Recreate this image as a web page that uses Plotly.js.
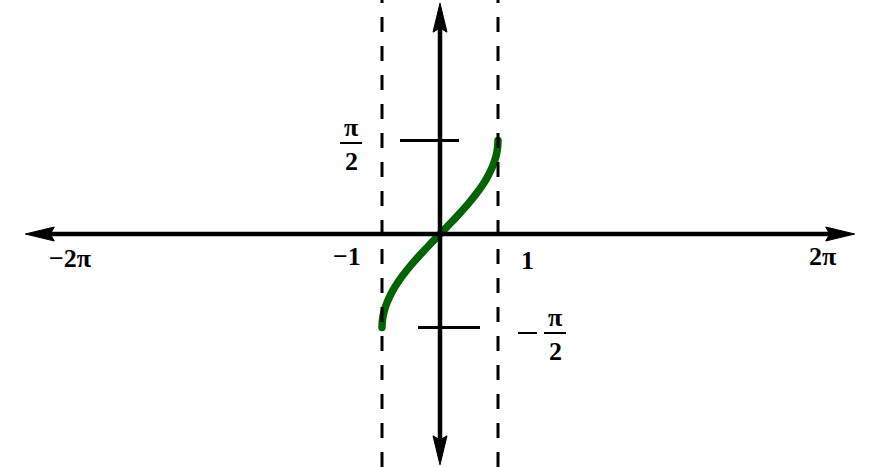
<!DOCTYPE html>
<html>
<head>
<meta charset="utf-8">
<script src="https://cdn.plot.ly/plotly-3.0.1.min.js"></script>
<style>html,body{margin:0;padding:0;background:#fff;}#chart{width:888px;height:467px;}</style>
</head>
<body>
<div id="chart"></div>
<script>
// ---- data ----
const curveX = [-1, -0.995, -0.98, -0.95, -0.9, -0.8, -0.7, -0.6, -0.5, -0.4, -0.3, -0.2, -0.1, 0,
                0.1, 0.2, 0.3, 0.4, 0.5, 0.6, 0.7, 0.8, 0.9, 0.95, 0.98, 0.995, 1];
const curveY = [-1.571, -1.471, -1.371, -1.253, -1.120, -0.927, -0.775, -0.644, -0.524, -0.412, -0.305, -0.201, -0.100, 0,
                0.100, 0.201, 0.305, 0.412, 0.524, 0.644, 0.775, 0.927, 1.120, 1.253, 1.371, 1.471, 1.571];
const asymptotes = [-1, 1];
const xAxisEnds = [-7.15, 7.15];
const yAxisEnds = [-3.88, 3.88];
const yTickValues = [1.5708, -1.5708];
const xTickLabels = ['−2π', '−1', '1', '2π'];
const yTickNumerators = ['π', 'π'];
const yTickDenominators = ['2', '2'];

// ---- layout helpers ----
const PXX = 58, PXY = 59.5, OX = 440, OY = 234;
const px2x = p => (p - OX) / PXX;
const py2y = p => (OY - p) / PXY;

const font = {family: 'Liberation Serif, serif', size: 26, color: '#000'};
const black = '#000';

const shapes = [];
// axes lines
shapes.push({type: 'line', xref: 'x', yref: 'y', x0: xAxisEnds[0] + 0.3, x1: xAxisEnds[1] - 0.3, y0: 0, y1: 0,
             line: {color: black, width: 4.5}});
shapes.push({type: 'line', xref: 'x', yref: 'y', x0: 0, x1: 0, y0: yAxisEnds[0] + 0.3, y1: yAxisEnds[1] - 0.3,
             line: {color: black, width: 4.5}});
// arrowheads
function arrow(ax, ay, path) {
  shapes.push({type: 'path', xref: 'x', yref: 'y', xsizemode: 'pixel', ysizemode: 'pixel',
               xanchor: ax, yanchor: ay, path: path, fillcolor: black, line: {color: black, width: 1}});
}
arrow(xAxisEnds[0], 0, 'M 0 0 L 29 7 L 25 0 L 29 -7 Z');
arrow(xAxisEnds[1], 0, 'M 0 0 L -29 7 L -25 0 L -29 -7 Z');
arrow(0, yAxisEnds[1], 'M 0 0 L 7 -29 L 0 -25 L -7 -29 Z');
arrow(0, yAxisEnds[0], 'M 0 0 L 7 29 L 0 25 L -7 29 Z');
// dashed asymptotes
asymptotes.forEach(a => shapes.push({type: 'line', xref: 'x', yref: 'paper', x0: a, x1: a, y0: 0, y1: 1,
  line: {color: black, width: 3, dash: '15px,14px'}}));
// y tick marks (offset horizontally as in reference)
const tickSpans = [[px2x(400), px2x(459)], [px2x(418), px2x(480)]];
yTickValues.forEach((v, i) => shapes.push({type: 'line', xref: 'x', yref: 'y',
  x0: tickSpans[i][0], x1: tickSpans[i][1], y0: v, y1: v, line: {color: black, width: 3}}));

// labels
const annotations = [];
const xLabelPos = [[70, 258], [347, 256], [527, 260], [822, 256]];
xTickLabels.forEach((t, i) => annotations.push({xref: 'x', yref: 'y', x: px2x(xLabelPos[i][0]), y: py2y(xLabelPos[i][1]),
  text: '<b>' + t + '</b>', showarrow: false, font: font, xanchor: 'center', yanchor: 'middle'}));
// fractions for ±π/2
const fracPos = [[351, 143], [555, 333]];
yTickValues.forEach((v, i) => {
  const cx = px2x(fracPos[i][0]), cy = py2y(fracPos[i][1]);
  annotations.push({xref: 'x', yref: 'y', x: cx, y: cy, yshift: 16, text: '<b>' + yTickNumerators[i] + '</b>',
    showarrow: false, font: font, xanchor: 'center', yanchor: 'middle'});
  annotations.push({xref: 'x', yref: 'y', x: cx, y: cy, yshift: -18, text: '<b>' + yTickDenominators[i] + '</b>',
    showarrow: false, font: font, xanchor: 'center', yanchor: 'middle'});
  shapes.push({type: 'line', xref: 'x', yref: 'y', xsizemode: 'pixel', xanchor: cx, x0: -11, x1: 11, y0: cy, y1: cy,
    line: {color: black, width: 2}});
  if (v < 0) {
    shapes.push({type: 'line', xref: 'x', yref: 'y', xsizemode: 'pixel', xanchor: cx, x0: -37, x1: -18, y0: cy, y1: cy,
      line: {color: black, width: 2}});
  }
});

const trace = {x: curveX, y: curveY, type: 'scatter', mode: 'lines', line: {color: '#006400', width: 7.5, shape: 'spline'},
  hoverinfo: 'skip', showlegend: false};

const layout = {
  width: 888, height: 467, margin: {l: 0, r: 0, t: 0, b: 0},
  paper_bgcolor: '#fff', plot_bgcolor: '#fff', showlegend: false,
  xaxis: {range: [px2x(0), px2x(888)], visible: false, fixedrange: true},
  yaxis: {range: [py2y(467), py2y(0)], visible: false, fixedrange: true},
  shapes: shapes, annotations: annotations
};
Plotly.newPlot('chart', [trace], layout, {staticPlot: true, displayModeBar: false}).then(() => {
  document.querySelectorAll('.scatterlayer path.js-line').forEach(p => p.style.strokeLinecap = 'round');
});
</script>
</body>
</html>
